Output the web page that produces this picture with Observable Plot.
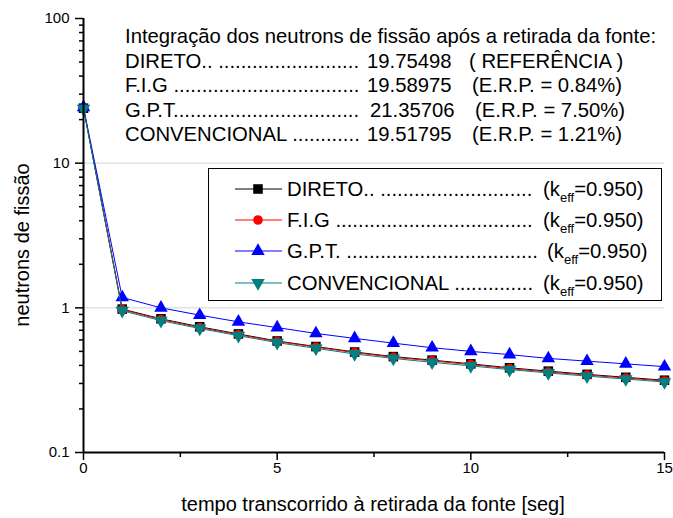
<!DOCTYPE html>
<html><head><meta charset="utf-8">
<script src="https://cdn.jsdelivr.net/npm/d3@7"></script>
<script src="https://cdn.jsdelivr.net/npm/@observablehq/plot@0.6"></script>
<style>
body{margin:0;background:#fff;}
#wrap{position:relative;width:673px;height:518px;font-family:"Liberation Sans",Arial,sans-serif;color:#000;overflow:hidden;}
.t{position:absolute;white-space:nowrap;font-size:20.3px;line-height:20px;}
.sub{font-size:13px;position:relative;top:6px;}
#legend{position:absolute;left:208px;top:168px;width:452px;height:131px;border:1px solid #000;background:#fff;}
</style></head><body><div id="wrap"></div>
<script>
// ---- data ----
const tempo   = [0, 1, 2, 3, 4, 5, 6, 7, 8, 9, 10, 11, 12, 13, 14, 15];
const direto  = [24.0, 0.98, 0.84, 0.74, 0.66, 0.59, 0.54, 0.495, 0.46, 0.435, 0.41, 0.385, 0.365, 0.347, 0.331, 0.316];
const fig     = [24.0, 0.97, 0.83, 0.73, 0.652, 0.585, 0.535, 0.49, 0.455, 0.43, 0.405, 0.38, 0.36, 0.343, 0.327, 0.312];
const gpt     = [24.3, 1.18, 1.0, 0.89, 0.80, 0.73, 0.665, 0.615, 0.57, 0.53, 0.50, 0.475, 0.447, 0.428, 0.41, 0.392];
const conv    = [23.8, 0.955, 0.815, 0.72, 0.642, 0.575, 0.525, 0.48, 0.447, 0.42, 0.397, 0.374, 0.355, 0.337, 0.322, 0.307];
const seriesNames  = ["DIRETO", "F.I.G", "G.P.T.", "CONVENCIONAL"];
const seriesColors = ["#000000", "#ff0000", "#0000ff", "#008080"];
const yTicks  = [0.1, 1, 10, 100];
const yMinor  = [0.2,0.3,0.4,0.5,0.6,0.7,0.8,0.9,2,3,4,5,6,7,8,9,20,30,40,50,60,70,80,90];
const yGrid   = [1, 10];
const xTicks  = [0, 5, 10, 15];
const xMinor  = [2.5, 7.5, 12.5];
const xTitle  = "tempo transcorrido à retirada da fonte [seg]";
const yTitle  = "neutrons de fissão";
const annotTitle  = "Integração dos neutrons de fissão após a retirada da fonte:";
const annotNames  = ["DIRETO.. ", "F.I.G ", "G.P.T", "CONVENCIONAL "];
const annotValues = ["19.75498", "19.58975", "21.35706", "19.51795"];
const annotNotes  = ["( REFERÊNCIA )", "(E.R.P. = 0.84%)", "(E.R.P. = 7.50%)", "(E.R.P. = 1.21%)"];
const legendNames = ["DIRETO.. ", "F.I.G ", "G.P.T. ", "CONVENCIONAL "];
const keffValue   = "0.950";

// ---- styling (not data) ----
const symbols = ["square", "circle", "triangle", "triangle"];
const rotates = [0, 0, 0, 180];
const radii   = [5.4, 4.8, 5, 5];
const allValues = [direto, fig, gpt, conv];

const rows = [];
seriesNames.forEach((s, i) => tempo.forEach((t, j) => rows.push({serie: s, idx: i, t, v: allValues[i][j]})));

const marks = [
  Plot.ruleY(yGrid, {stroke: "#d4d4d4", strokeWidth: 1}),
];
seriesNames.forEach((s, i) => {
  const d = rows.filter(r => r.idx === i);
  marks.push(Plot.line(d, {x: "t", y: "v", stroke: seriesColors[i], strokeWidth: 1}));
  marks.push(Plot.dot(d, {x: "t", y: "v", symbol: symbols[i], r: radii[i], rotate: rotates[i], fill: seriesColors[i], stroke: "none"}));
});
marks.push(
  Plot.axisY(yTicks, {tickSize: 8, tickPadding: 6, tickFormat: d => String(d), fontSize: 15, strokeWidth: 1.5, label: null}),
  Plot.axisY(yMinor, {tickSize: 4, tickFormat: () => "", strokeWidth: 1.5, label: null}),
  Plot.axisX(xTicks, {tickSize: 8, tickPadding: 2, tickFormat: d => String(d), fontSize: 15, strokeWidth: 1.5, label: null}),
  Plot.axisX(xMinor, {tickSize: 5, tickFormat: () => "", strokeWidth: 1.5, label: null}),
  Plot.ruleX([0], {stroke: "#000", strokeWidth: 2}),
  Plot.ruleY([0.1], {stroke: "#000", strokeWidth: 2})
);

const chart = Plot.plot({
  width: 673, height: 518,
  marginLeft: 83, marginRight: 9, marginTop: 18, marginBottom: 66,
  style: {fontFamily: "'Liberation Sans', Arial, sans-serif", fontSize: "15px", background: "white", overflow: "visible"},
  x: {domain: [0, 15], label: null},
  y: {type: "log", domain: [0.1, 100], label: null},
  marks
});
const wrap = document.getElementById("wrap");
wrap.appendChild(chart);

// measuring helper to fill leader dots up to a target width
const ctx = document.createElement("canvas").getContext("2d");
ctx.font = "20.3px 'Liberation Sans', Arial, sans-serif";
function leader(name, avail) {
  const w = ctx.measureText(name).width;
  const dw = ctx.measureText(".").width;
  const n = Math.max(0, Math.floor((avail - w) / dw));
  return name + ".".repeat(n);
}

function addText(html, left, baseline, extra) {
  const el = document.createElement("div");
  el.className = "t";
  el.innerHTML = html;
  el.style.left = left + "px";
  el.style.top = (baseline - 17) + "px";
  if (extra) Object.assign(el.style, extra);
  wrap.appendChild(el);
  return el;
}

// annotation block
const annBase = [43, 67.5, 92, 116.5, 141];
addText(annotTitle, 125, annBase[0]);
const valX  = [367, 367, 370, 367];
const noteX = [469, 472, 475, 472];
annotNames.forEach((n, i) => {
  addText(leader(n, valX[i] - 6 - 125), 125, annBase[i + 1]);
  addText(annotValues[i], valX[i], annBase[i + 1]);
  addText(annotNotes[i], noteX[i], annBase[i + 1]);
});

// legend
const leg = document.createElement("div");
leg.id = "legend";
wrap.appendChild(leg);
const legCenters = [188.5, 219.5, 251, 283];
const keffX = [543, 543, 547, 543];
const d3Sym = [d3.symbolSquare, d3.symbolCircle, d3.symbolTriangle, d3.symbolTriangle];
legendNames.forEach((n, i) => {
  const cy = legCenters[i];
  const svg = d3.create("svg").attr("width", 50).attr("height", 16)
    .style("position", "absolute").style("left", "233px").style("top", (cy - 8) + "px").style("overflow", "visible");
  svg.append("line").attr("x1", 2).attr("x2", 49).attr("y1", 8).attr("y2", 8).attr("stroke", seriesColors[i]).attr("stroke-width", 1);
  const size = Math.PI * radii[i] * radii[i];
  svg.append("path").attr("d", d3.symbol(d3Sym[i], size)())
    .attr("transform", `translate(25,8) rotate(${rotates[i]})`).attr("fill", seriesColors[i]);
  wrap.appendChild(svg.node());
  addText(leader(n, keffX[i] - 6 - 287), 287, cy + 7);
  addText(`(k<span class="sub">eff</span>=${keffValue})`, keffX[i], cy + 7);
});

// axis titles
addText(xTitle, 373, 511, {transform: "translateX(-50%)", fontSize: "20px"});
const yt = document.createElement("div");
yt.className = "t";
yt.textContent = yTitle;
Object.assign(yt.style, {left: "22px", top: "245px", fontSize: "20px", transform: "translate(-50%,-50%) rotate(-90deg)"});
wrap.appendChild(yt);
</script>
</body></html>
